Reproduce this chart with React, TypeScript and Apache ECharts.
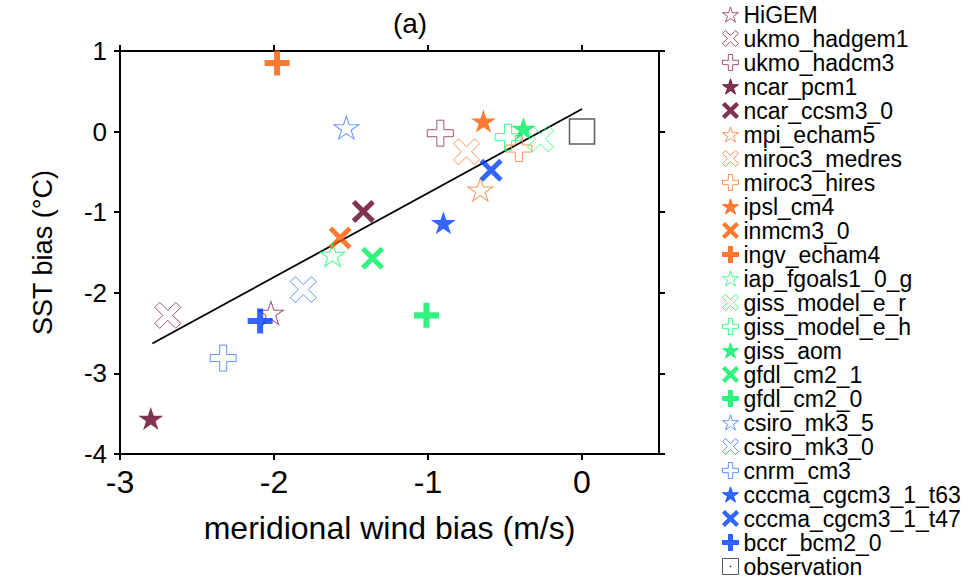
import React, { useEffect, useRef } from "react";
import * as echarts from "echarts";

const models = [
  "HiGEM", "ukmo_hadgem1", "ukmo_hadcm3", "ncar_pcm1", "ncar_ccsm3_0",
  "mpi_echam5", "miroc3_medres", "miroc3_hires", "ipsl_cm4", "inmcm3_0",
  "ingv_echam4", "iap_fgoals1_0_g", "giss_model_e_r", "giss_model_e_h", "giss_aom",
  "gfdl_cm2_1", "gfdl_cm2_0", "csiro_mk3_5", "csiro_mk3_0", "cnrm_cm3",
  "cccma_cgcm3_1_t63", "cccma_cgcm3_1_t47", "bccr_bcm2_0", "observation",
];
const windBias = [
  -2.02, -2.69, -0.92, -2.80, -1.42,
  -0.66, -0.75, -0.41, -0.64, -1.57,
  -1.98, -1.62, -0.27, -0.48, -0.38,
  -1.36, -1.01, -1.53, -1.81, -2.33,
  -0.90, -0.59, -2.09, 0.0,
];
const sstBias = [
  -2.25, -2.28, -0.02, -3.56, -0.99,
  -0.72, -0.25, -0.21, 0.13, -1.32,
  0.85, -1.53, -0.09, -0.07, 0.04,
  -1.57, -2.28, 0.05, -1.96, -2.81,
  -1.13, -0.48, -2.35, 0.0,
];
const markerKinds = [
  "starO", "xO", "plusO", "star", "x",
  "starO", "xO", "plusO", "star", "x",
  "plus", "starO", "xO", "plusO", "star",
  "x", "plus", "starO", "xO", "plusO",
  "star", "x", "plus", "obs",
];
const markerColors = [
  "#8e2a5c", "#8e2a5c", "#8e2a5c", "#600028", "#600028",
  "#ff7a2a", "#ff7a2a", "#ff7a2a", "#ff5a00", "#ff5a00",
  "#ff5a00", "#1aff6e", "#1aff6e", "#1aff6e", "#00f060",
  "#00f060", "#00f060", "#3a78ff", "#3a78ff", "#3a78ff",
  "#0040ff", "#0040ff", "#0040ff", "#333333",
];
const fitX = [-2.79, 0.0];
const fitY = [-2.63, 0.28];
const xTicks = [-3, -2, -1, 0];

const FONT = "'Liberation Sans', Arial, Helvetica, sans-serif";

const STAR =
  "path://M50,0L61.17,34.63L97.55,34.55L68.07,55.87L79.39,90.45L50,69L20.61,90.45L31.93,55.87L2.45,34.55L38.83,34.63Z";
const PLUS = "path://M9.1,0H14.9V9.1H24V14.9H14.9V24H9.1V14.9H0V9.1H9.1Z";
const PLUS_O = "path://M8.75,0H15.25V8.75H24V15.25H15.25V24H8.75V15.25H0V8.75H8.75Z";
const XS =
  "path://M0,3.7L3.7,0L12,8.3L20.3,0L24,3.7L15.7,12L24,20.3L20.3,24L12,15.7L3.7,24L0,20.3L8.3,12Z";
const XS_O =
  "path://M0,4.6L4.6,0L12,7.4L19.4,0L24,4.6L16.6,12L24,19.4L19.4,24L12,16.6L4.6,24L0,19.4L7.4,12Z";
const OBS = "path://M0,0H24V24H0Z";
const OBS_ICON = "path://M0,0H24V24H0Z M11.3,11.3H12.7V12.7H11.3Z";

function symbolFor(kind: string) {
  switch (kind) {
    case "star":
    case "starO":
      return STAR;
    case "plus":
      return PLUS;
    case "plusO":
      return PLUS_O;
    case "x":
      return XS;
    case "xO":
      return XS_O;
    default:
      return OBS;
  }
}
function sizeFor(kind: string): number[] {
  switch (kind) {
    case "star":
    case "starO":
      return [25, 23];
    case "plus":
      return [25, 25];
    case "plusO":
      return [26, 26];
    case "x":
      return [23, 23];
    case "xO":
      return [26, 26];
    default:
      return [25, 25];
  }
}

export default function App() {
  const ref = useRef<HTMLDivElement>(null);
  useEffect(() => {
    document.body.style.margin = "0";
    if (!ref.current) return;
    const chart = echarts.init(ref.current, null, { renderer: "svg" });

    const scatterSeries = models.map((name, i) => {
      const kind = markerKinds[i];
      const hollow = kind.endsWith("O") || kind === "obs";
      const color = markerColors[i];
      return {
        type: "scatter",
        name,
        xAxisIndex: 0,
        yAxisIndex: 0,
        symbol: symbolFor(kind),
        symbolSize: sizeFor(kind),
        silent: true,
        z: 3,
        data: [[windBias[i], sstBias[i]]],
        itemStyle: hollow
          ? { color: "transparent", borderColor: color, borderWidth: kind === "obs" ? 1.5 : 1 }
          : { color, borderColor: color, borderWidth: 0 },
        emphasis: { disabled: true },
      };
    });

    const legendData = models.map((name, i) =>
      markerKinds[i] === "obs" ? { name, icon: OBS_ICON } : { name }
    );

    const option: any = {
      animation: false,
      textStyle: { fontFamily: FONT },
      graphic: [
        {
          type: "text",
          x: 410,
          y: 23,
          style: {
            text: "(a)",
            fontSize: 28,
            fontFamily: FONT,
            fill: "#000",
            align: "center",
            verticalAlign: "middle",
          },
        },
      ],
      grid: { left: 120, top: 51, right: 312, bottom: 125, containLabel: false },
      legend: {
        orient: "vertical",
        left: 722,
        top: 2.5,
        height: 640,
        padding: 0,
        itemWidth: 16,
        itemHeight: 16,
        itemGap: 0,
        selectedMode: false,
        data: legendData,
        itemStyle: { borderWidth: 1 },
        textStyle: { fontSize: 23, lineHeight: 24, color: "#000", fontFamily: FONT },
      },
      xAxis: [
        {
          type: "value",
          min: -3,
          max: 0.5,
          interval: 1,
          position: "bottom",
          axisLine: { show: true, onZero: false, lineStyle: { color: "#000", width: 2 } },
          axisTick: { show: true, inside: false, length: 6, customValues: xTicks, lineStyle: { color: "#000", width: 2 } },
          axisLabel: { customValues: xTicks, fontSize: 32, margin: 12, color: "#000", fontFamily: FONT },
          splitLine: { show: false },
          name: "meridional wind bias (m/s)",
          nameLocation: "middle",
          nameGap: 58,
          nameTextStyle: { fontSize: 32, color: "#000", fontFamily: FONT },
        },
        {
          type: "value",
          min: -3,
          max: 0.5,
          interval: 1,
          position: "top",
          axisLine: { show: true, onZero: false, lineStyle: { color: "#000", width: 2 } },
          axisTick: { show: true, inside: false, length: 6, customValues: xTicks, lineStyle: { color: "#000", width: 2 } },
          axisLabel: { show: false },
          splitLine: { show: false },
        },
      ],
      yAxis: [
        {
          type: "value",
          min: -4,
          max: 1,
          interval: 1,
          position: "left",
          axisLine: { show: true, onZero: false, lineStyle: { color: "#000", width: 2 } },
          axisTick: { show: true, inside: false, length: 6, lineStyle: { color: "#000", width: 2 } },
          axisLabel: { fontSize: 26, margin: 13, color: "#000", fontFamily: FONT },
          splitLine: { show: false },
          name: "SST bias (°C)",
          nameLocation: "middle",
          nameGap: 64,
          nameTextStyle: { fontSize: 27, color: "#000", fontFamily: FONT },
        },
        {
          type: "value",
          min: -4,
          max: 1,
          interval: 1,
          position: "right",
          axisLine: { show: true, onZero: false, lineStyle: { color: "#000", width: 2 } },
          axisTick: { show: true, inside: false, length: 6, lineStyle: { color: "#000", width: 2 } },
          axisLabel: { show: false },
          splitLine: { show: false },
        },
      ],
      series: [
        {
          type: "line",
          name: "fit",
          xAxisIndex: 0,
          yAxisIndex: 0,
          data: fitX.map((x, i) => [x, fitY[i]]),
          showSymbol: false,
          symbol: "none",
          silent: true,
          z: 2,
          lineStyle: { color: "#000", width: 1.8 },
        },
        ...scatterSeries,
      ],
    };
    chart.setOption(option);
    return () => chart.dispose();
  }, []);
  return <div ref={ref} style={{ width: 971, height: 579 }} />;
}
